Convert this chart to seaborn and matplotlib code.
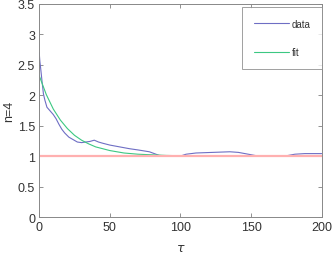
import numpy as np
import pandas as pd
import matplotlib
matplotlib.use('Agg')
import matplotlib.pyplot as plt
import seaborn as sns

# values
data_tau = [0, 0.5, 1, 2, 3, 4, 5.5, 7, 8.5, 10, 12, 14, 16, 18, 21, 24, 27, 30,
            33, 36, 39, 42, 45, 50, 57, 64, 70, 78, 85, 92, 100, 104, 111, 123,
            135, 141, 148, 155, 165, 174, 181, 188, 200]
data_n = [2.70, 2.55, 2.45, 2.23, 2.02, 1.92, 1.80, 1.76, 1.72, 1.68, 1.61, 1.52,
          1.44, 1.38, 1.31, 1.27, 1.23, 1.22, 1.23, 1.24, 1.26, 1.23, 1.21, 1.18,
          1.15, 1.12, 1.10, 1.07, 1.01, 1.00, 1.00, 1.03, 1.05, 1.06, 1.07, 1.06,
          1.03, 1.00, 1.00, 1.00, 1.03, 1.04, 1.04]

fit_tau = [0, 5, 10, 15, 20, 25, 30, 35, 40, 45, 50, 55, 60, 70, 80, 90, 100,
           120, 140, 160, 180, 200]
fit_n = [2.32, 2.01, 1.77, 1.59, 1.45, 1.34, 1.26, 1.20, 1.15, 1.12, 1.09, 1.07,
         1.05, 1.03, 1.02, 1.01, 1.005, 1.0, 1.0, 1.0, 1.0, 1.0]

ref_tau = [0, 200]
ref_n = [1, 1]

sns.set_style('white')
plt.rcParams['font.family'] = ['Liberation Sans', 'DejaVu Sans']

fig = plt.figure(figsize=(3.32, 2.55), dpi=100)
ax = fig.add_axes([0.118, 0.145, 0.851, 0.837])

df_data = pd.DataFrame({'tau': data_tau, 'n': data_n})
df_fit = pd.DataFrame({'tau': fit_tau, 'n': fit_n})
df_ref = pd.DataFrame({'tau': ref_tau, 'n': ref_n})

sns.lineplot(data=df_data, x='tau', y='n', ax=ax, color='#6e6ec4', lw=0.8,
             estimator=None, sort=False, label='data')
sns.lineplot(data=df_fit, x='tau', y='n', ax=ax, color='#3cc882', lw=0.8,
             estimator=None, sort=False, label='fit')
sns.lineplot(data=df_ref, x='tau', y='n', ax=ax, color='#ffb0b0', lw=1.6,
             estimator=None, sort=False, legend=False)

ax.set_xlim(0, 200)
ax.set_ylim(0, 3.5)
ax.set_xticks([0, 50, 100, 150, 200])
ax.set_yticks(np.arange(0, 3.6, 0.5))
ax.set_yticklabels(['0', '0.5', '1', '1.5', '2', '2.5', '3', '3.5'])
ax.tick_params(direction='in', length=3, width=0.6, colors='#808080',
               labelcolor='#333333', labelsize=9, top=True, right=True,
               bottom=True, left=True, pad=3)
for s in ax.spines.values():
    s.set_color('#888888')
    s.set_linewidth(0.7)

ax.set_xlabel(r'$\tau$', fontsize=9, color='#333333', labelpad=6)
ax.set_ylabel('n=4', fontsize=9, color='#333333', labelpad=2)

leg = ax.legend(loc='upper right', bbox_to_anchor=(0.97, 0.968),
                bbox_transform=fig.transFigure, fontsize=7, frameon=True,
                fancybox=False, edgecolor='#888888', labelspacing=1.9,
                borderpad=1.2, handlelength=3.6, handletextpad=0.3,
                borderaxespad=0)
leg.get_frame().set_linewidth(0.7)
for t in leg.get_texts():
    t.set_color('#333333')

fig.savefig('out.png', dpi=100)
